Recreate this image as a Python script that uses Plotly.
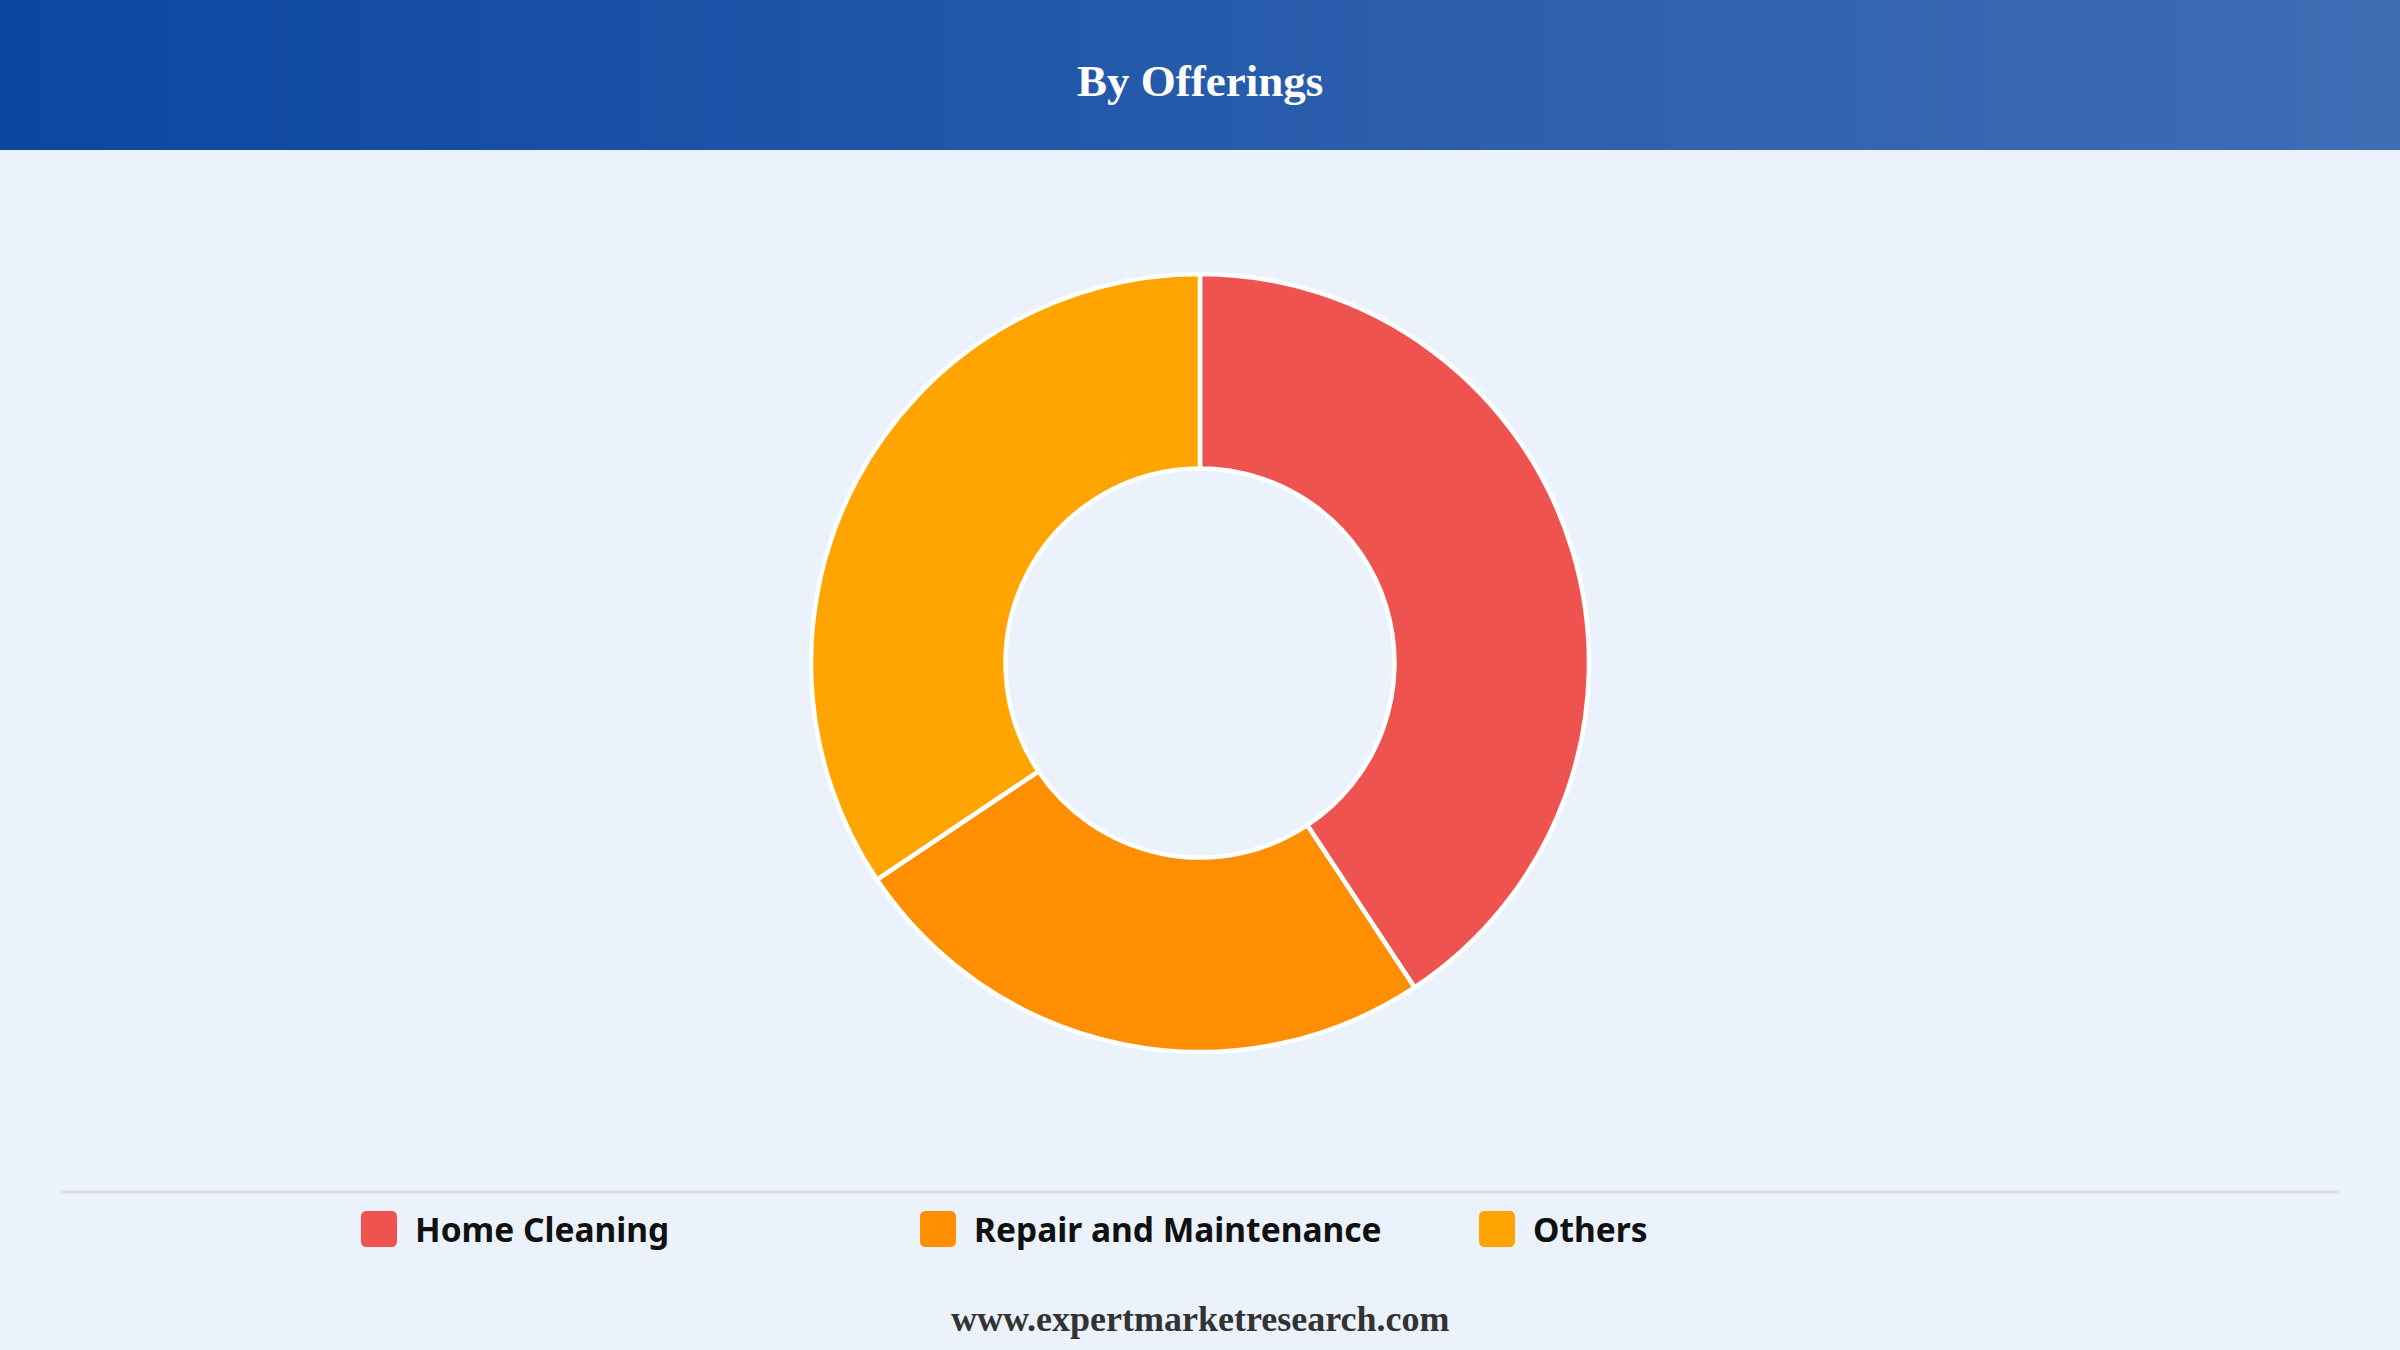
import plotly.graph_objects as go

labels = ["Home Cleaning", "Repair and Maintenance", "Others"]
values = [40.7, 24.9, 34.4]
colors = ["#EF5350", "#FF8F00", "#FFA400"]

title = "By Offerings"
footer = "www.expertmarketresearch.com"

W, H = 2400, 1350

def px(x):
  return x / W

def py(y):
  return 1 - y / H

fig = go.Figure()

fig.add_trace(go.Pie(
  labels=labels,
  values=values,
  hole=0.5,
  sort=False,
  direction="clockwise",
  rotation=0,
  marker=dict(colors=colors, line=dict(color="white", width=4.5)),
  textinfo="none",
  hoverinfo="label+percent",
  showlegend=False,
  domain=dict(x=[px(811), px(1589)], y=[py(1052), py(274)]),
))

shapes = []

#header gradient made of thin strips
c0 = (13, 71, 161)
c1 = (63, 109, 180)
n = 160
for i in range(n):
  t = i / (n - 1)
  c = tuple(int(round(c0[k] + (c1[k] - c0[k]) * t)) for k in range(3))
  shapes.append(dict(type="rect", xref="paper", yref="paper",
                     x0=i / n, x1=(i + 1) / n + 0.001, y0=py(150), y1=1,
                     fillcolor="rgb(%d,%d,%d)" % c, line=dict(width=0), layer="below"))

shapes.append(dict(type="line", xref="paper", yref="paper",
                   x0=px(60), x1=px(2339), y0=py(1192), y1=py(1192),
                   line=dict(color="#DCDFE4", width=3)))

annotations = [
  dict(text="<b>%s</b>" % title, x=0.5, y=py(81), xref="paper", yref="paper",
       showarrow=False, xanchor="center", yanchor="middle",
       font=dict(family="Liberation Serif", size=45, color="white")),
  dict(text="<b>%s</b>" % footer, x=0.5, y=py(1319), xref="paper", yref="paper",
       showarrow=False, xanchor="center", yanchor="middle",
       font=dict(family="Liberation Serif", size=36, color="#333333")),
]

#legend drawn by hand so the swatches can be big and rounded
leg_x = [361, 920, 1479]
leg_y = 1229
sw = 36
r = 6
for i in range(len(labels)):
  x0, x1 = leg_x[i], leg_x[i] + sw
  y0, y1 = leg_y - sw / 2, leg_y + sw / 2
  path = ("M %f,%f L %f,%f Q %f,%f %f,%f L %f,%f Q %f,%f %f,%f "
          "L %f,%f Q %f,%f %f,%f L %f,%f Q %f,%f %f,%f Z") % (
    px(x0 + r), py(y0), px(x1 - r), py(y0), px(x1), py(y0), px(x1), py(y0 + r),
    px(x1), py(y1 - r), px(x1), py(y1), px(x1 - r), py(y1),
    px(x0 + r), py(y1), px(x0), py(y1), px(x0), py(y1 - r),
    px(x0), py(y0 + r), px(x0), py(y0), px(x0 + r), py(y0))
  shapes.append(dict(type="path", xref="paper", yref="paper", path=path,
                     fillcolor=colors[i], line=dict(width=0)))
  annotations.append(dict(text="<b>%s</b>" % labels[i], x=px(x1 + 16), y=py(leg_y),
                          xref="paper", yref="paper", showarrow=False,
                          xanchor="left", yanchor="middle",
                          font=dict(family="Noto Sans", size=33.5, color="#111111")))

fig.update_layout(
  width=W, height=H,
  margin=dict(l=0, r=0, t=0, b=0),
  paper_bgcolor="#EBF2FB",
  plot_bgcolor="#EBF2FB",
  shapes=shapes,
  annotations=annotations,
)

fig.write_html("out.html", config={"displayModeBar": False},
               post_script="document.body.style.margin='0';")
